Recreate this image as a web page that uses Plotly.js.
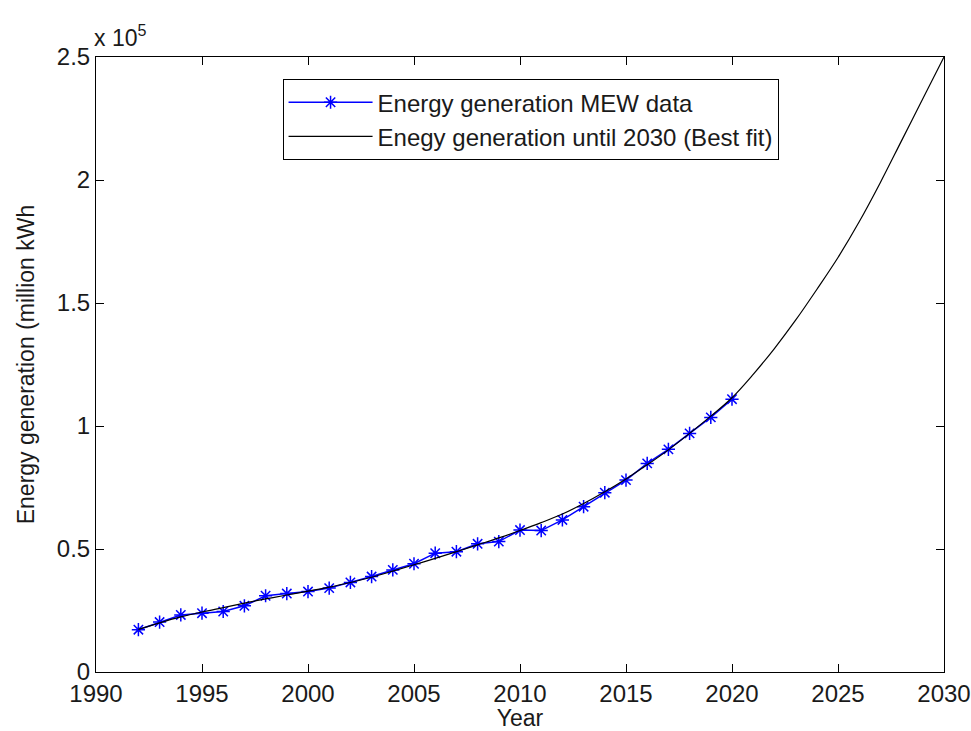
<!DOCTYPE html>
<html>
<head>
<meta charset="utf-8">
<script src="https://cdn.plot.ly/plotly-3.0.1.min.js"></script>
<style>html,body{margin:0;padding:0;background:#fff;}#chart{width:971px;height:731px;}</style>
</head>
<body>
<div id="chart"></div>
<script>
// MEW data (million kWh)
var dataYears = [1992,1993,1994,1995,1996,1997,1998,1999,2000,2001,2002,2003,2004,2005,2006,2007,2008,2009,2010,2011,2012,2013,2014,2015,2016,2017,2018,2019,2020];
var dataValues = [17200,20300,23200,23900,24600,26900,31000,31900,32700,34100,36400,38800,41500,44000,48300,48900,52100,53000,57700,57500,61800,67200,72900,78000,84800,90500,97000,103500,110900];

// Best fit curve until 2030
var fitYears = [1992,1993,1994,1995,1996,1997,1998,1999,2000,2001,2002,2003,2004,2005,2006,2007,2008,2009,2010,2011,2012,2013,2014,2015,2016,2017,2018,2019,2020,2021,2022,2023,2024,2025,2026,2027,2028,2029,2030];
var fitValues = [17300,20000,22400,24400,26200,28000,29700,31300,32900,34500,36400,38500,41000,43600,46200,48900,51700,54500,57500,60700,64200,68500,73300,78500,84200,90300,97000,104000,111500,121000,131500,143000,155500,168500,183000,199000,216000,233000,250000];

// Tick labels
var xTicks = [1990,1995,2000,2005,2010,2015,2020,2025,2030];
var yTickVals = [0,50000,100000,150000,200000,250000];
var yTickText = ['0','0.5','1','1.5','2','2.5'];

var FONT = 'Liberation Sans, Arial, Helvetica, sans-serif';
var TXT = '#1a1a1a';

var traces = [
  {
    x: dataYears, y: dataValues, type: 'scatter', mode: 'lines+markers',
    name: 'Energy generation MEW data',
    line: {color: '#0000ff', width: 1.5},
    marker: {symbol: 'asterisk-open', size: 11, color: '#0000ff', line: {color: '#0000ff', width: 1.5}}
  },
  {
    x: fitYears, y: fitValues, type: 'scatter', mode: 'lines',
    name: 'Enegy generation until 2030 (Best fit)',
    line: {color: '#000000', width: 1.2, shape: 'spline', smoothing: 1}
  }
];

var layout = {
  width: 971, height: 731,
  margin: {l: 96, r: 27, t: 57, b: 59},
  paper_bgcolor: '#ffffff', plot_bgcolor: '#ffffff',
  font: {family: FONT, size: 24, color: TXT},
  showlegend: true,
  legend: {
    x: 0.22, y: 0.964, xanchor: 'left', yanchor: 'top',
    bgcolor: '#ffffff', bordercolor: '#000000', borderwidth: 1,
    font: {family: FONT, size: 24, color: TXT},
    itemwidth: 84, tracegroupgap: 0
  },
  xaxis: {
    range: [1990, 2030], tickvals: xTicks, ticktext: xTicks.map(String),
    showline: true, linecolor: '#000', linewidth: 1, mirror: 'ticks',
    ticks: 'inside', ticklen: 8, tickcolor: '#000', tickwidth: 1,
    showgrid: false, zeroline: false,
    tickfont: {family: FONT, size: 24, color: TXT},
    title: {text: 'Year', font: {family: FONT, size: 23, color: TXT}, standoff: 6}
  },
  yaxis: {
    range: [0, 250000], tickvals: yTickVals, ticktext: yTickText,
    showline: true, linecolor: '#000', linewidth: 1, mirror: 'ticks',
    ticks: 'inside', ticklen: 8, tickcolor: '#000', tickwidth: 1,
    showgrid: false, zeroline: false,
    tickfont: {family: FONT, size: 24, color: TXT},
    title: {text: 'Energy generation (million kWh', font: {family: FONT, size: 23, color: TXT}, standoff: 15}
  },
  annotations: [
    {xref: 'paper', yref: 'paper', x: 0, y: 1, xanchor: 'left', yanchor: 'bottom',
     xshift: -4, yshift: 4, showarrow: false, text: 'x 10<sup>5</sup>',
     font: {family: FONT, size: 23, color: TXT}}
  ]
};

Plotly.newPlot('chart', traces, layout, {displayModeBar: false, staticPlot: true});
</script>
</body>
</html>
